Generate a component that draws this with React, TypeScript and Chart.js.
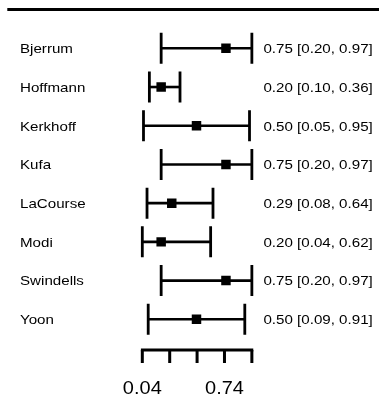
import React, { useEffect, useRef } from "react";
import { Chart, registerables } from "chart.js";

Chart.register(...registerables);

const studies = ["Bjerrum", "Hoffmann", "Kerkhoff", "Kufa", "LaCourse", "Modi", "Swindells", "Yoon"];
const estimates = [0.75, 0.2, 0.5, 0.75, 0.29, 0.2, 0.75, 0.5];
const lowerCI = [0.2, 0.1, 0.05, 0.2, 0.08, 0.04, 0.2, 0.09];
const upperCI = [0.97, 0.36, 0.95, 0.97, 0.64, 0.62, 0.97, 0.91];
const axisTicks = [0.04, 0.2725, 0.505, 0.7375, 0.97];
const axisTickLabels = ["0.04", "", "", "0.74", ""];

const FONT = '"Liberation Sans", Arial, Helvetica, sans-serif';
const STRETCH = 1.13;

function drawText(ctx: CanvasRenderingContext2D, text: string, x: number, y: number, size: number, align: CanvasTextAlign) {
  ctx.save();
  ctx.font = `${size}px ${FONT}`;
  ctx.fillStyle = "#000";
  ctx.textAlign = align;
  ctx.textBaseline = "alphabetic";
  ctx.translate(x, y + 0.358 * size);
  ctx.scale(STRETCH, 1);
  ctx.fillText(text, 0, 0);
  ctx.restore();
}

const forestPlugin = {
  id: "forest",
  beforeDatasetsDraw(chart: any) {
    const { ctx, chartArea, scales } = chart;
    const xs = scales.x;
    const ys = scales.y;
    ctx.save();
    ctx.strokeStyle = "#000";
    ctx.lineCap = "butt";
    // top rule
    ctx.lineWidth = 3;
    ctx.beginPath();
    ctx.moveTo(7.3, chartArea.top - 0.1);
    ctx.lineTo(chart.width, chartArea.top - 0.1);
    ctx.stroke();
    // confidence intervals
    const capHalf = 15.5;
    for (let i = 0; i < studies.length; i++) {
      const y = ys.getPixelForValue(i);
      const xl = xs.getPixelForValue(lowerCI[i]);
      const xu = xs.getPixelForValue(upperCI[i]);
      ctx.lineWidth = 2.6;
      ctx.beginPath();
      ctx.moveTo(xl, y);
      ctx.lineTo(xu, y);
      ctx.stroke();
      ctx.lineWidth = 2.8;
      ctx.beginPath();
      ctx.moveTo(xl, y - capHalf);
      ctx.lineTo(xl, y + capHalf);
      ctx.moveTo(xu, y - capHalf);
      ctx.lineTo(xu, y + capHalf);
      ctx.stroke();
      drawText(ctx, studies[i], 20, y, 13.4, "left");
      const txt = `${estimates[i].toFixed(2)} [${lowerCI[i].toFixed(2)}, ${upperCI[i].toFixed(2)}]`;
      drawText(ctx, txt, 263.4, y, 13.4, "left");
    }
    // bottom axis
    const axisY = ys.getPixelForValue(studies.length - 1) + 30.7;
    const x0 = xs.getPixelForValue(axisTicks[0]);
    const x1 = xs.getPixelForValue(axisTicks[axisTicks.length - 1]);
    ctx.lineWidth = 3;
    ctx.beginPath();
    ctx.moveTo(x0 - 1.4, axisY);
    ctx.lineTo(x1 + 1.4, axisY);
    ctx.stroke();
    ctx.beginPath();
    for (let t = 0; t < axisTicks.length; t++) {
      const tx = xs.getPixelForValue(axisTicks[t]);
      ctx.moveTo(tx, axisY);
      ctx.lineTo(tx, axisY + 13);
    }
    ctx.stroke();
    for (let t = 0; t < axisTicks.length; t++) {
      if (!axisTickLabels[t]) continue;
      const tx = xs.getPixelForValue(axisTicks[t]);
      drawText(ctx, axisTickLabels[t], tx, axisY + 38, 17.7, "center");
    }
    ctx.restore();
  },
};

export default function App() {
  const canvasRef = useRef<HTMLCanvasElement | null>(null);
  useEffect(() => {
    if (!canvasRef.current) return;
    const chart = new Chart(canvasRef.current, {
      type: "scatter",
      data: {
        datasets: [
          {
            data: estimates.map((v, i) => ({ x: v, y: i })),
            pointStyle: "rect",
            pointRadius: 6.7,
            pointHoverRadius: 6.7,
            backgroundColor: "#000",
            borderColor: "#000",
            borderWidth: 0,
          },
        ],
      },
      options: {
        responsive: false,
        animation: false,
        events: [],
        layout: { padding: { left: 137.6, right: 123.6, top: 9.6, bottom: 40 } },
        plugins: { legend: { display: false }, tooltip: { enabled: false } },
        scales: {
          x: { type: "linear", min: 0, max: 1, display: false },
          y: { type: "linear", min: -1, max: 8, reverse: true, display: false },
        },
      },
      plugins: [forestPlugin],
    });
    return () => chart.destroy();
  }, []);
  return (
    <div style={{ position: "absolute", left: 0, top: 0, width: 379, height: 398, background: "#fff" }}>
      <canvas ref={canvasRef} width={379} height={398} />
    </div>
  );
}
